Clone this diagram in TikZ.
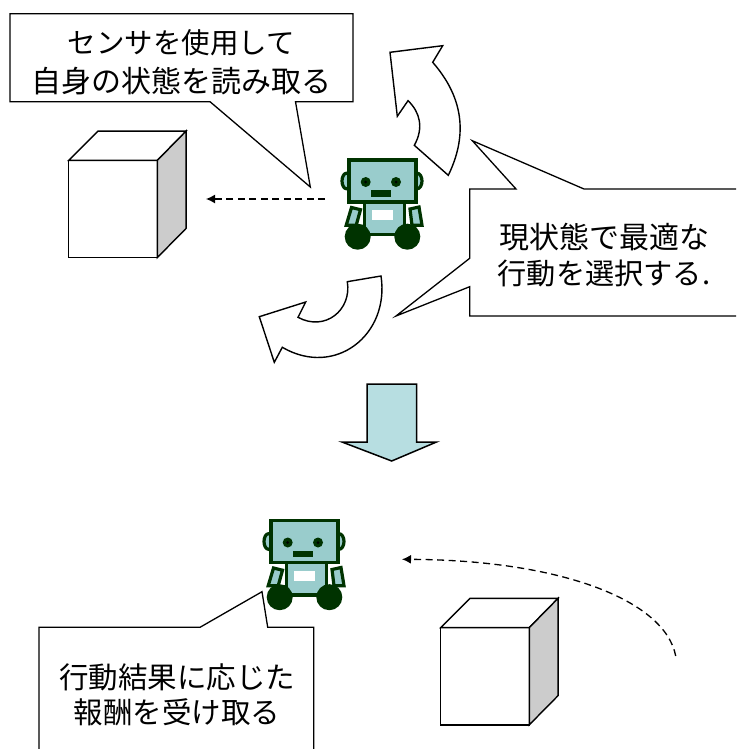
\documentclass[tikz,border=0pt]{standalone}
\usepackage{fontspec}
\setmainfont{Noto Sans CJK JP}
\usetikzlibrary{arrows.meta}
\definecolor{robotdark}{HTML}{003300}
\definecolor{robotbody}{HTML}{99CCCC}
\definecolor{downfill}{HTML}{B7DEE1}
\definecolor{cubeside}{HTML}{CCCCCC}
\newcommand{\sizedline}[2]{{\fontsize{#1}{37}\selectfont #2}}
\tikzset{
  outline/.style={draw=black,line width=1.4pt,line join=miter,fill=white},
  bubble/.style={outline,line width=1.3pt},
  bubbletext/.style={align=center,inner sep=0pt},
  motion/.style={black,line width=1.3pt,dash pattern=on 7pt off 4.5pt,
    -{Latex[length=9pt,width=9pt]}},
  robotpart/.style={draw=robotdark,line width=3.2pt,fill=robotbody,line join=miter},
  robotfig/.pic={
    \path[robotpart] (-35.5,0) ellipse [x radius=4.5pt,y radius=7.8pt];
    \path[robotpart] (35,0) ellipse [x radius=5pt,y radius=7.8pt];
    \path[robotpart] (-17.5,21) rectangle (22.5,53.5);
    \path[robotpart] (-30.5,26.5) -- (-21.5,28.7) -- (-25.8,44.3) -- (-35.8,44.3) -- cycle;
    \path[robotpart] (28,28) -- (37,26) -- (40,44.3) -- (30,44.3) -- cycle;
    \path[robotpart] (-33,-21) rectangle (34,21);
    \fill[white] (-10,29) rectangle (11,39);
    \fill[robotdark] (-16.3,1) circle [radius=5pt] (14,1) circle [radius=5pt];
    \fill[black] (-16.3,1) circle [radius=1.5pt] (14,1) circle [radius=1.5pt];
    \fill[robotdark] (-11.3,9) rectangle (8.7,15.7);
    \fill[robotdark] (-24.3,55.7) circle [radius=13pt] (25.3,55.7) circle [radius=13pt];
  },
  boxfig/.pic={
    \path[outline] (0,0) rectangle (88.6,97.2);
    \path[outline] (0,0) -- (29.4,-29.3) -- (117.4,-29.3) -- (88.6,0) -- cycle;
    \path[outline,fill=cubeside] (88.6,0) -- (117.4,-29.3) -- (117.4,68) -- (88.6,97.2) -- cycle;
  },
}
\begin{document}
\begin{tikzpicture}[x=1pt,y=-1pt]
  \useasboundingbox (0,0) rectangle (736,749);
  \clip (0,0) rectangle (736,749);

  % objects and robots
  \pic at (68.7,160.4) {boxfig};
  \pic at (440.7,627.6) {boxfig};
  \pic at (382,181) {robotfig};
  \pic at (304,541.5) {robotfig};

  % turning arrows around the upper robot
  \path[outline] (448.3,175.3) .. controls (463,145) and (470,105) .. (432.7,62.3)
    -- (442.7,45.7) -- (390,52.3) -- (397.3,116.3) -- (408,100.7)
    .. controls (420,112) and (424,128) .. (414.3,145.3) -- cycle;
  \path[outline] (381,276) .. controls (390,335) and (335,378) .. (282.3,347.3)
    -- (274.3,362.3) -- (259.3,316.7) -- (305.7,302) -- (298,317.3)
    .. controls (325,332) and (352,310) .. (347.3,281.7) -- cycle;

  % step arrow between the two situations
  \path[draw=black,line width=1.5pt,fill=downfill,line join=miter]
    (367,384) -- (416.7,384) -- (416.7,442) -- (436.5,442) -- (391.7,461)
    -- (342,442) -- (367,442) -- cycle;

  % speech bubbles
  \path[bubble] (10,13.7) -- (353,13.7) -- (353,101.7) -- (295.5,101.7)
    -- (310.3,187) -- (210,101.7) -- (10,101.7) -- cycle;
  \node[bubbletext,font=\fontsize{29}{39}\selectfont] (sensetext) at (181.5,62)
    {\sizedline{28.5}{センサを使用して}\\\sizedline{30}{自身の状態を読み取る}};

  \path[bubble] (469.7,189) -- (516,189) -- (472.3,140.7) -- (584,189) -- (745,189)
    -- (745,316) -- (469.7,316) -- (469.7,286.7) -- (396,316) -- (469.7,258.3) -- cycle;
  \node[bubbletext,font=\fontsize{29}{36.5}\selectfont] (choosetext) at (604,255)
    {\sizedline{30}{現状態で最適な}\\\sizedline{29.2}{行動を選択する.}};

  \path[bubble] (39,627.3) -- (200,627.3) -- (262,591.7) -- (267.7,627.3) -- (313.7,627.3)
    -- (313.7,760) -- (39,760) -- cycle;
  \node[bubbletext,font=\fontsize{29.5}{35}\selectfont] (rewardtext) at (177,694.5)
    {行動結果に応じた\\報酬を受け取る};

  % sensing and reward motions
  \coordinate (sensefrom) at (325,199);
  \coordinate (senseto) at (206,199);
  \coordinate (rewardfrom) at (675.7,656);
  \coordinate (rewardto) at (402,559.3);
  \draw[motion] (sensefrom) -- (senseto);
  \draw[motion] (rewardfrom) .. controls (665,600) and (560,560) .. (rewardto);
\end{tikzpicture}
\end{document}
